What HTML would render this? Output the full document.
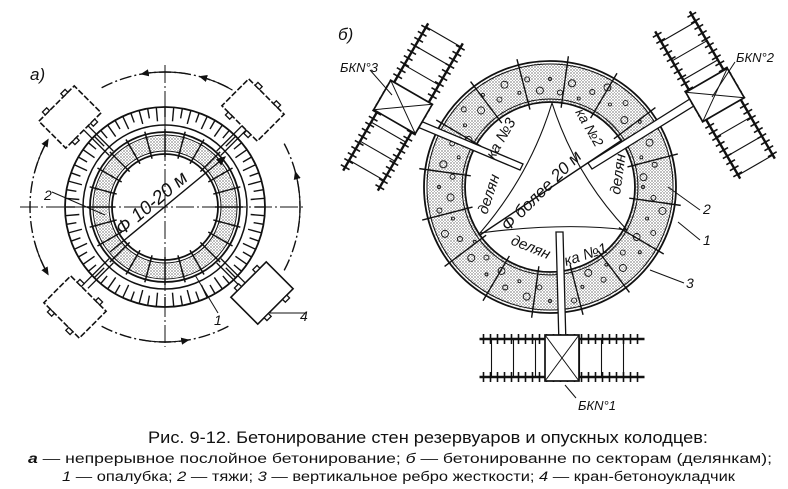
<!DOCTYPE html>
<html><head><meta charset="utf-8"><style>
html,body{margin:0;padding:0;background:#fff;width:788px;height:489px;overflow:hidden}
svg{display:block}
text{font-family:"Liberation Sans",sans-serif;fill:#111}
</style></head><body>
<svg id="s" width="788" height="489" viewBox="0 0 788 489" xmlns="http://www.w3.org/2000/svg" stroke="#111" fill="none" stroke-width="1.5">
<defs>
<pattern id="dots" width="3" height="3" patternUnits="userSpaceOnUse"><circle cx="1" cy="1" r="0.6" fill="#222" stroke="none"/><circle cx="2.5" cy="2.4" r="0.4" fill="#444" stroke="none"/></pattern>
<marker id="ar" markerWidth="8" markerHeight="8" refX="6" refY="3" orient="auto"><path d="M0,0 L7,3 L0,6 z" fill="#111" stroke="none"/></marker>
</defs>
<g id="L"></g>
<g id="R"></g>
<text x="30" y="80" font-size="17" font-style="italic" stroke="none">a)</text>
<text x="338" y="40" font-size="17" font-style="italic" stroke="none">б)</text>
<text x="122" y="236" font-size="19" font-style="italic" stroke="none" transform="rotate(-40 122 236)">Ф 10-20 м</text>
<text x="44" y="200" font-size="14" font-style="italic" stroke="none">2</text>
<text x="214" y="325" font-size="14" font-style="italic" stroke="none">1</text>
<text x="300" y="321" font-size="14" font-style="italic" stroke="none">4</text>
<text x="508" y="232" font-size="17" font-style="italic" stroke="none" transform="rotate(-45 508 232)">Ф более 20 м</text>
<text x="487" y="215" font-size="15" font-style="italic" stroke="none" transform="rotate(-72 487 215)">делян</text>
<text x="494" y="160" font-size="15" font-style="italic" stroke="none" transform="rotate(-60 494 160)">ка №3</text>
<text x="575" y="112" font-size="14" font-style="italic" stroke="none" transform="rotate(60 575 112)">ка №2</text>
<text x="620" y="195" font-size="15" font-style="italic" stroke="none" transform="rotate(-82 620 195)">делян</text>
<text x="510" y="244" font-size="15" font-style="italic" stroke="none" transform="rotate(22 510 244)">делян</text>
<text x="566" y="266" font-size="15" font-style="italic" stroke="none" transform="rotate(-18 566 266)">ка №1</text>
<text x="340" y="72" font-size="13" font-style="italic" stroke="none">БКN°3</text>
<text x="736" y="62" font-size="13" font-style="italic" stroke="none">БКN°2</text>
<text x="578" y="410" font-size="13" font-style="italic" stroke="none">БКN°1</text>
<text x="703" y="214" font-size="14" font-style="italic" stroke="none">2</text>
<text x="703" y="245" font-size="14" font-style="italic" stroke="none">1</text>
<text x="686" y="288" font-size="14" font-style="italic" stroke="none">3</text>
<text x="148" y="443" font-size="17" stroke="none" textLength="560" lengthAdjust="spacingAndGlyphs">Рис. 9-12. Бетонирование стен резервуаров и опускных колодцев:</text>
<text x="28" y="463" font-size="13.5" stroke="none" textLength="744" lengthAdjust="spacingAndGlyphs"><tspan font-style="italic" font-weight="bold">а</tspan> — непрерывное послойное  бетонирование;  <tspan font-style="italic">б</tspan> — бетонированне  по  секторам  (делянкам);</text>
<text x="62" y="481" font-size="13.5" stroke="none" textLength="673" lengthAdjust="spacingAndGlyphs"><tspan font-style="italic">1</tspan> — опалубка;  <tspan font-style="italic">2</tspan> — тяжи;  <tspan font-style="italic">3</tspan> — вертикальное  ребро  жесткости;  <tspan font-style="italic">4</tspan> — кран-бетоноукладчик</text>
</svg>
<script>
const NS="http://www.w3.org/2000/svg";
function el(p,t,a){const e=document.createElementNS(NS,t);for(const k in a)e.setAttribute(k,a[k]);p.appendChild(e);return e;}
const L=document.getElementById('L'),R=document.getElementById('R');
let cx=165,cy=207;
el(L,'line',{x1:20,y1:cy,x2:306,y2:cy,'stroke-dasharray':'18 3 2 3','stroke-width':1});
el(L,'line',{x1:cx,y1:65,x2:cx,y2:347,'stroke-dasharray':'18 3 2 3','stroke-width':1});
[[-118,-62],[-152,-208],[62,118],[28,-28]].forEach(([a1,a2])=>{
 const r=135,p1=[cx+r*Math.cos(a1*Math.PI/180),cy+r*Math.sin(a1*Math.PI/180)],p2=[cx+r*Math.cos(a2*Math.PI/180),cy+r*Math.sin(a2*Math.PI/180)];
 el(L,'path',{d:`M${p1} A${r},${r} 0 0 ${a2>a1?1:0} ${p2}`,'stroke-width':1.4,'stroke-dasharray':'12 3 2 3'});
});
[[-80,-100],[-165,-150],[100,80],[10,-15],[-60,-75],[165,150]].forEach(([a1,a2])=>{
 const r=135,p1=[cx+r*Math.cos(a1*Math.PI/180),cy+r*Math.sin(a1*Math.PI/180)],p2=[cx+r*Math.cos(a2*Math.PI/180),cy+r*Math.sin(a2*Math.PI/180)];
 el(L,'path',{d:`M${p1} A${r},${r} 0 0 ${a2>a1?1:0} ${p2}`,'marker-end':'url(#ar)','stroke-width':1.2});
});
el(L,'circle',{cx,cy,r:100,'stroke-width':1.8});
el(L,'circle',{cx,cy,r:82,'stroke-width':1.5});
for(let i=0;i<72;i++){const a=i*5*Math.PI/180;const c=Math.cos(a),s=Math.sin(a);
 el(L,'line',{x1:cx+100*c,y1:cy+100*s,x2:cx+(i%2?86:90)*c,y2:cy+(i%2?86:90)*s,'stroke-width':1.4});}
el(L,'circle',{cx,cy,r:75,'stroke-width':1.8});
el(L,'circle',{cx,cy,r:72,'stroke-width':1});
el(L,'circle',{cx,cy,r:64,fill:'none',stroke:'url(#dots)','stroke-width':14});
el(L,'circle',{cx,cy,r:56,'stroke-width':1});
el(L,'circle',{cx,cy,r:53,'stroke-width':1.8});
for(let i=0;i<24;i++){const a=i*15*Math.PI/180;const c=Math.cos(a),s=Math.sin(a);
 el(L,'line',{x1:cx+50*c,y1:cy+50*s,x2:cx+78*c,y2:cy+78*s,'stroke-width':1.5});
 el(L,'line',{x1:cx+56*c-3*s,y1:cy+56*s+3*c,x2:cx+56*c+3*s,y2:cy+56*s-3*c,'stroke-width':1});
 el(L,'line',{x1:cx+72*c-3*s,y1:cy+72*s+3*c,x2:cx+72*c+3*s,y2:cy+72*s-3*c,'stroke-width':1});}
el(L,'line',{x1:cx-55,y1:cy+45,x2:cx+60,y2:cy-50,'stroke-width':1.4,'marker-end':'url(#ar)'});
el(L,'line',{x1:52,y1:192,x2:105,y2:215,'stroke-width':1});
el(L,'line',{x1:195,y1:275,x2:218,y2:313,'stroke-width':1});
el(L,'line',{x1:270,y1:313,x2:305,y2:313,'stroke-width':1});
// booms (dashed-ish double lines along diagonals)
[[-1,-1],[1,-1],[-1,1],[1,1]].forEach(([sx,sy])=>{
 const u=[sx/Math.SQRT2,sy/Math.SQRT2],n=[-u[1]*3,u[0]*3];
 el(L,'line',{x1:cx+u[0]*76+n[0],y1:cy+u[1]*76+n[1],x2:cx+u[0]*112+n[0],y2:cy+u[1]*112+n[1],'stroke-width':1.3});
 el(L,'line',{x1:cx+u[0]*76-n[0],y1:cy+u[1]*76-n[1],x2:cx+u[0]*112-n[0],y2:cy+u[1]*112-n[1],'stroke-width':1.3});
});
[[-45,70,117,1],[45,253,110,1],[45,75,307,1],[-45,262,293,0]].forEach(([ang,x,y,dash])=>{
 const g=el(L,'g',{transform:`translate(${x},${y}) rotate(${ang})`});
 el(g,'rect',{x:-25,y:-19,width:50,height:38,fill:'#fff','stroke-width':1.6,'stroke-dasharray':dash?'6 2':'none'});
 [[-16,-23],[10,-23],[-16,19],[10,19]].forEach(([a,b])=>el(g,'rect',{x:a,y:b,width:6,height:4,fill:'#fff','stroke-width':1.3}));
});
// Right figure
cx=550;cy=187;
el(R,'circle',{cx,cy,r:105,fill:'none',stroke:'url(#dots)','stroke-width':38});
el(R,'circle',{cx,cy,r:126,'stroke-width':1.8});el(R,'circle',{cx,cy,r:123,'stroke-width':1});
el(R,'circle',{cx,cy,r:85,'stroke-width':1.8});el(R,'circle',{cx,cy,r:88,'stroke-width':1});
for(let i=0;i<16;i++){const a=(i*22.5+8)*Math.PI/180;const c=Math.cos(a),s=Math.sin(a);
 el(R,'line',{x1:cx+80*c,y1:cy+80*s,x2:cx+132*c,y2:cy+132*s,'stroke-width':1.4});}
for(let i=0;i<60;i++){const a=i*6*Math.PI/180,r=93+(i*11%24);el(R,'circle',{cx:cx+r*Math.cos(a),cy:cy+r*Math.sin(a),r:1.5+(i%3),'stroke-width':0.9});}
el(R,'path',{d:'M552,103 Q575,175 627,230 Q565,222 480,233 Q530,175 552,103 Z','stroke-width':1.1});
el(R,'line',{x1:480,y1:235,x2:622,y2:140,'stroke-width':1.4});
el(R,'path',{d:'M377,110 L520,170 L523,164 L380,104 Z',fill:'#fff','stroke-width':1.3});
el(R,'path',{d:'M693,97 L588,163 L592,169 L697,104 Z',fill:'#fff','stroke-width':1.3});
el(R,'path',{d:'M556,232 L559,345 L566,345 L563,232 Z',fill:'#fff','stroke-width':1.3});
function track(g,len,gap){
 [ -gap/2, gap/2].forEach(y=>{el(g,'line',{x1:-len/2,y1:y,x2:len/2,y2:y,'stroke-width':2.4});
  for(let x=-len/2+4;x<len/2;x+=7)el(g,'line',{x1:x,y1:y-5,x2:x,y2:y+5,'stroke-width':1.6});});
 for(let x=-len/2+12;x<len/2;x+=22)el(g,'line',{x1:x,y1:-gap/2,x2:x,y2:gap/2,'stroke-width':1.1});
 el(g,'rect',{x:-17,y:-gap/2-4,width:34,height:gap+8,fill:'#fff','stroke-width':1.7});
 el(g,'line',{x1:-17,y1:-gap/2-4,x2:17,y2:gap/2+4,'stroke-width':1});el(g,'line',{x1:17,y1:-gap/2-4,x2:-17,y2:gap/2+4,'stroke-width':1});
}
let g=el(R,'g',{transform:'translate(562,358)'});track(g,165,38);
g=el(R,'g',{transform:'translate(403,107) rotate(-60)'});track(g,170,40);
g=el(R,'g',{transform:'translate(715,95) rotate(60)'});track(g,170,40);
el(R,'line',{x1:370,y1:70,x2:392,y2:95,'stroke-width':1});
el(R,'line',{x1:735,y1:62,x2:712,y2:97,'stroke-width':1});
el(R,'line',{x1:576,y1:398,x2:565,y2:385,'stroke-width':1});
el(R,'line',{x1:668,y1:187,x2:700,y2:210,'stroke-width':1});
el(R,'line',{x1:678,y1:222,x2:700,y2:240,'stroke-width':1});
el(R,'line',{x1:650,y1:270,x2:684,y2:283,'stroke-width':1});
</script>
</body></html>
